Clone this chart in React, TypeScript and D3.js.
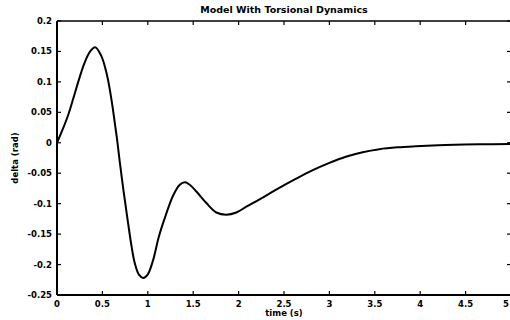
import React from "react";
import * as d3 from "d3";

const timeValues = [0, 0.06, 0.124, 0.18, 0.234, 0.3, 0.36, 0.42, 0.49, 0.546, 0.582, 0.612, 0.637, 0.663, 0.692, 0.721, 0.747, 0.783, 0.821, 0.857, 0.904, 0.95, 1.0, 1.058, 1.12, 1.2, 1.278, 1.352, 1.41, 1.462, 1.535, 1.645, 1.755, 1.865, 1.975, 2.085, 2.231, 2.414, 2.634, 2.817, 3.0, 3.18, 3.366, 3.55, 3.75, 3.95, 4.28, 4.65, 5.0];
const deltaValues = [0, 0.021, 0.046, 0.073, 0.1, 0.13, 0.149, 0.157, 0.142, 0.114, 0.087, 0.059, 0.032, 0.004, -0.032, -0.066, -0.094, -0.132, -0.17, -0.198, -0.217, -0.222, -0.216, -0.193, -0.155, -0.118, -0.087, -0.069, -0.065, -0.069, -0.08, -0.099, -0.1145, -0.118, -0.1145, -0.105, -0.093, -0.077, -0.059, -0.045, -0.033, -0.023, -0.0155, -0.0105, -0.0075, -0.0058, -0.0038, -0.0025, -0.002];

const xTicks = [0, 0.5, 1, 1.5, 2, 2.5, 3, 3.5, 4, 4.5, 5];
const xTickLabels = ["0", "0.5", "1", "1.5", "2", "2.5", "3", "3.5", "4", "4.5", "5"];
const yTicks = [0.2, 0.15, 0.1, 0.05, 0, -0.05, -0.1, -0.15, -0.2, -0.25];
const yTickLabels = ["0.2", "0.15", "0.1", "0.05", "0", "-0.05", "-0.1", "-0.15", "-0.2", "-0.25"];

const title = "Model With Torsional Dynamics";
const xLabel = "time (s)";
const yLabel = "delta (rad)";

export default function App() {
  const W = 510, H = 320;
  const left = 57, right = 511, top = 21, bottom = 295;
  const x = d3.scaleLinear().domain([0, 5]).range([left, right]);
  const y = d3.scaleLinear().domain([-0.25, 0.2]).range([bottom, top]);
  const pts = timeValues.map((t, i) => [t, deltaValues[i]] as [number, number]);
  const line = d3.line<[number, number]>().x(d => x(d[0])).y(d => y(d[1])).curve(d3.curveCatmullRom.alpha(0.5));
  const font = "'DejaVu Sans', sans-serif";
  const tl = 4;
  return (
    <svg width={W} height={H} style={{ position: "absolute", left: 0, top: 0, background: "#fff" }}>
      <rect x={0} y={0} width={W} height={H} fill="#fff" />
      <path d={line(pts) || ""} fill="none" stroke="#000" strokeWidth={2} strokeLinejoin="round" />
      <line x1={left} x2={right} y1={top} y2={top} stroke="#000" strokeWidth={1.5} />
      <line x1={left} x2={right} y1={bottom} y2={bottom} stroke="#000" strokeWidth={2} />
      <line x1={left} x2={left} y1={top} y2={bottom} stroke="#000" strokeWidth={2} />
      <line x1={right} x2={right} y1={top} y2={bottom} stroke="#000" strokeWidth={1.5} />
      {xTicks.map((t, i) => {
        const last = i === xTicks.length - 1;
        return (
          <g key={"x" + i}>
            <line x1={x(t)} x2={x(t)} y1={bottom} y2={bottom - tl} stroke="#000" strokeWidth={1.2} />
            <line x1={x(t)} x2={x(t)} y1={top} y2={top + tl} stroke="#000" strokeWidth={1.2} />
            <text x={last ? W - 1 : x(t)} y={307} textAnchor={last ? "end" : "middle"} fontFamily={font} fontWeight="bold" fontSize={8.5}>{xTickLabels[i]}</text>
          </g>
        );
      })}
      {yTicks.map((v, i) => (
        <g key={"y" + i}>
          <line x1={left} x2={left + tl} y1={y(v)} y2={y(v)} stroke="#000" strokeWidth={1.2} />
          <line x1={right} x2={right - tl} y1={y(v)} y2={y(v)} stroke="#000" strokeWidth={1.2} />
          <text x={52} y={y(v) + 3} textAnchor="end" fontFamily={font} fontWeight="bold" fontSize={8.5}>{yTickLabels[i]}</text>
        </g>
      ))}
      <text x={(left + right) / 2} y={13} textAnchor="middle" fontFamily={font} fontWeight="bold" fontSize={9.5}>{title}</text>
      <text x={(left + right) / 2} y={316} textAnchor="middle" fontFamily={font} fontWeight="bold" fontSize={8.5}>{xLabel}</text>
      <text transform={`translate(18,158) rotate(-90)`} textAnchor="middle" fontFamily={font} fontWeight="bold" fontSize={8.5}>{yLabel}</text>
    </svg>
  );
}
